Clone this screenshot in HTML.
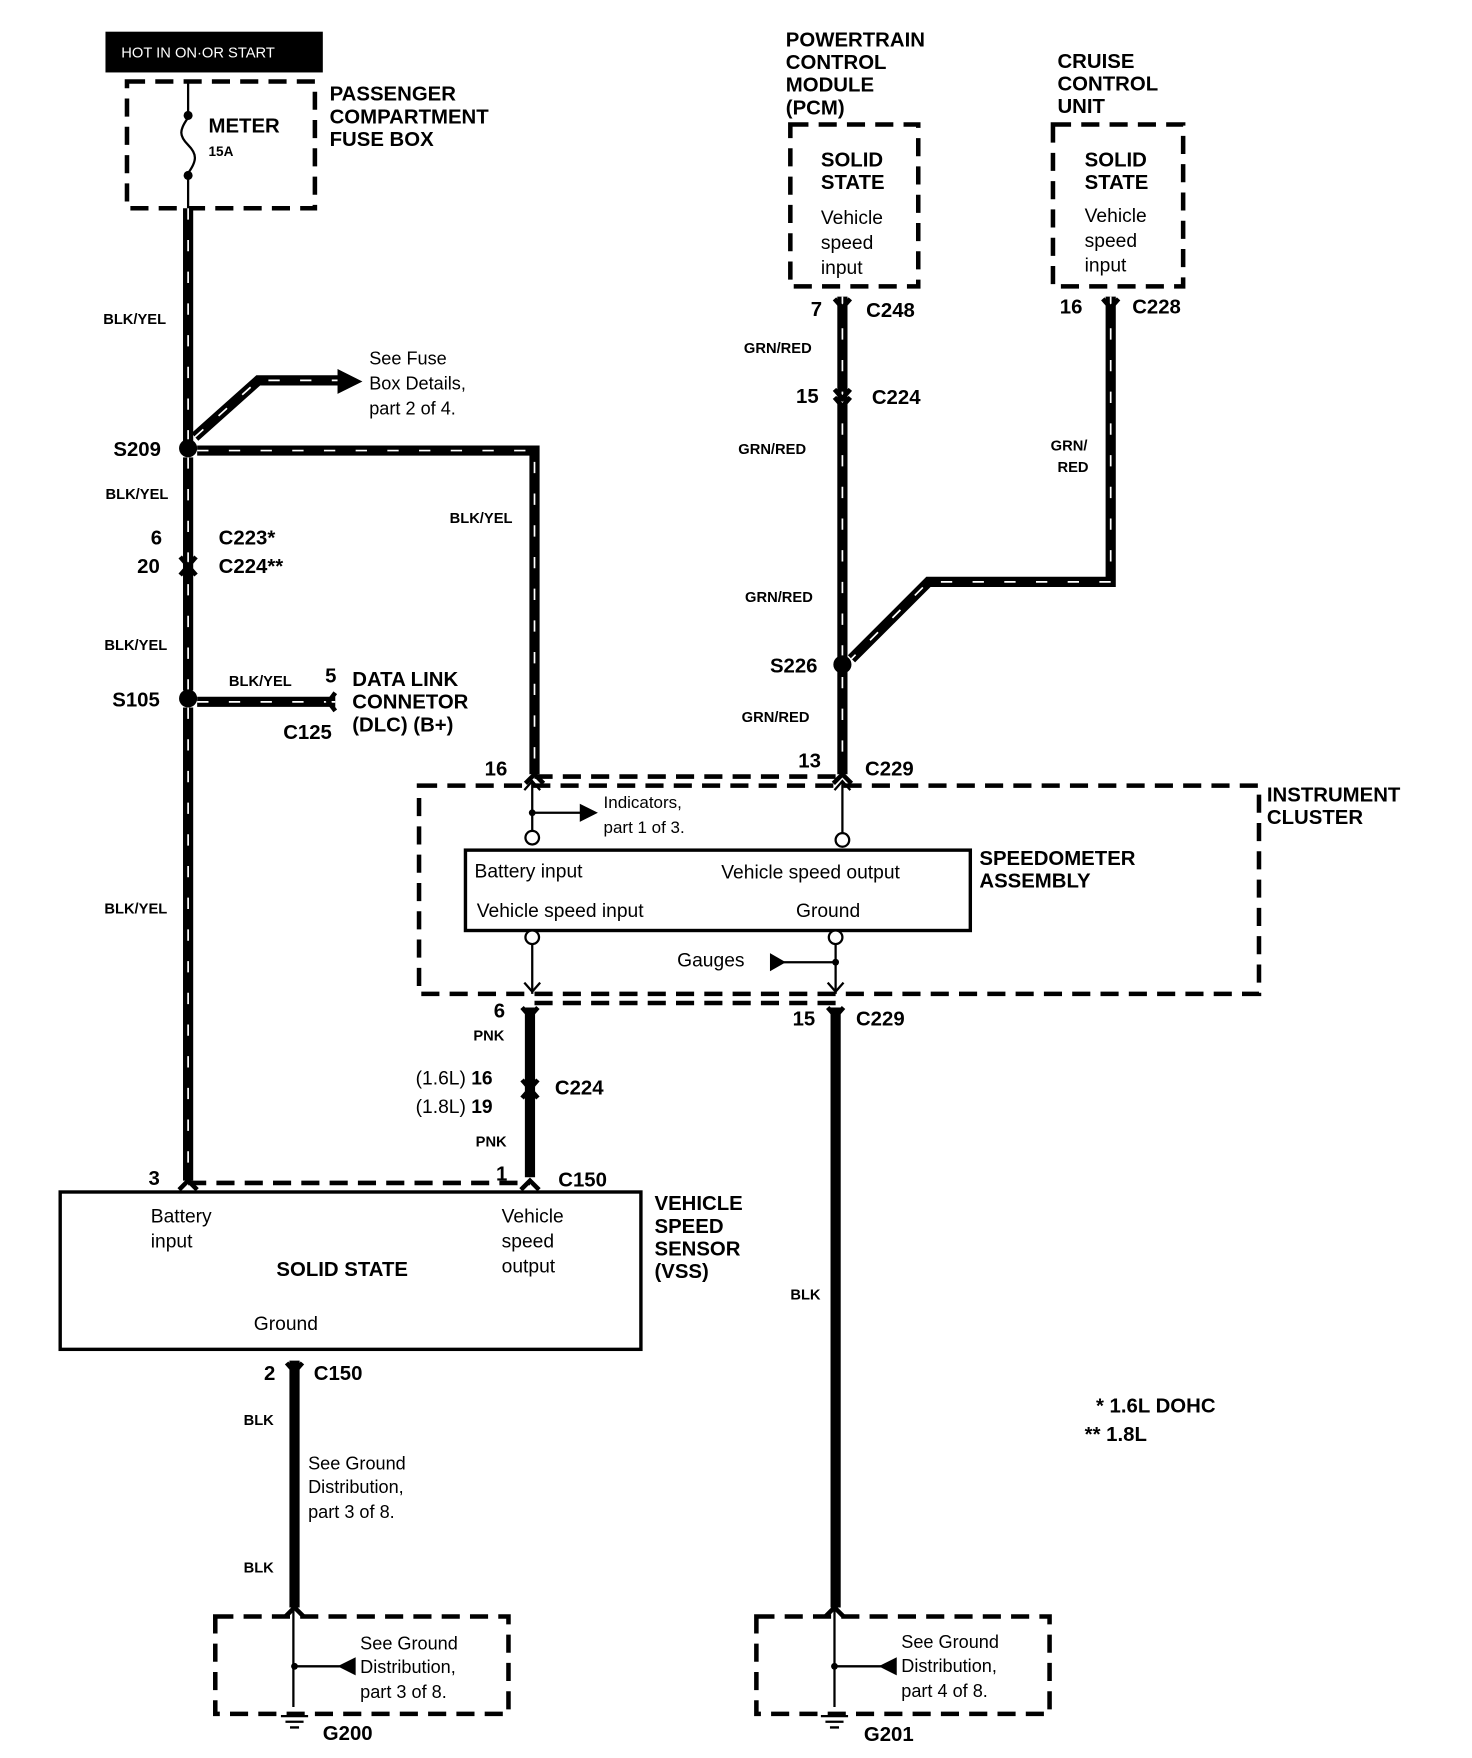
<!DOCTYPE html>
<html><head><meta charset="utf-8"><style>
html,body{margin:0;padding:0;background:#fff}
svg{display:block}
text{font-family:"Liberation Sans",Arial,sans-serif;fill:#000}
.b{font-weight:bold;font-size:18px}
.s{font-weight:bold;font-size:13px}
.n{font-size:17px}
.m{font-size:16px}
</style></head><body>
<svg width="1472" height="1758" viewBox="0 0 1300 1553" xmlns="http://www.w3.org/2000/svg">
<defs>
<g id="fk"><path d="M-7,-8 L0,0 L7,-8" fill="none" stroke="#000" stroke-width="4"/></g>
</defs>
<g fill="none" stroke="#000">
<!-- dashed boxes -->
<g stroke-width="4" stroke-dasharray="16,9">
<rect x="112" y="72" width="166" height="112"/>
<rect x="698" y="110" width="113" height="143"/>
<rect x="930" y="110" width="115" height="143"/>
<rect x="370" y="694" width="742" height="184"/>
<rect x="190" y="1428" width="259" height="86"/>
<rect x="668" y="1428" width="259" height="86"/>
<path d="M472,686 H744"/>
<path d="M472,886 H738"/>
<path d="M166,1045 H468"/>
</g>
<!-- solid boxes -->
<rect x="411" y="751" width="446" height="71" stroke-width="3"/>
<rect x="53" y="1053" width="513" height="139" stroke-width="3"/>
<!-- fuse -->
<path d="M166,72 V102 M166,155 V184" stroke-width="2"/>
<path d="M166,104 C158,115 158,120 166,128 C174,136 174,142 166,153" stroke-width="2"/>
<!-- striped wires -->
<g stroke-width="9">
<path d="M166,184 V390 M166,404 V610 M166,625 V1043"/>
<path d="M174,398 H472 V684"/>
<path d="M174,620 H296"/>
<path d="M744,262 V684"/>
<path d="M981,262 V514 H820 L752,582"/>
<path d="M172,386 L228,336 H300"/>
</g>
<g stroke="#fff" stroke-width="1.5" stroke-dasharray="10,18">
<path d="M166,184 V390 M166,404 V610 M166,625 V1043"/>
<path d="M174,398 H472 V684"/>
<path d="M174,620 H296"/>
<path d="M744,262 V684"/>
<path d="M981,262 V514 H820 L752,582"/>
<path d="M172,386 L228,336 H300"/>
</g>
<!-- solid wires -->
<g stroke-width="9">
<path d="M468,890 V1040"/>
<path d="M738,890 V1420"/>
<path d="M260,1202 V1420"/>
</g>
<!-- inside cluster -->
<g stroke-width="2">
<path d="M470,690 V734 M744,690 V736 M470,718 H515 M470,834 V878 M738,834 V878 M690,850 H738"/>
<path d="M737,1420 V1508 M259,1420 V1508 M260,1472 H300 M737,1472 H778"/>
<path d="M463,698 L470,690 L477,698 M737,698 L744,690 L751,698 M463,868 L470,876 L477,868 M731,868 L738,876 L745,868"/>
<circle cx="470" cy="740" r="6" fill="#fff"/>
<circle cx="744" cy="742" r="6" fill="#fff"/>
<circle cx="470" cy="828" r="6" fill="#fff"/>
<circle cx="738" cy="828" r="6" fill="#fff"/>
</g>
<!-- connectors -->
<use href="#fk" x="744" y="272"/>
<use href="#fk" x="744" y="352"/><use href="#fk" x="744" y="359"/>
<use href="#fk" x="981" y="272"/>
<use href="#fk" x="166" y="500"/>
<path d="M159,508 L166,500 L173,508" stroke-width="4"/>
<path d="M296,612 L290,620 L296,628" stroke-width="4"/>
<path d="M464,692 L472,684 L480,692" stroke-width="4"/>
<path d="M736,692 L744,684 L752,692" stroke-width="4"/>
<use href="#fk" x="468" y="898"/>
<use href="#fk" x="738" y="898"/>
<use href="#fk" x="468" y="962"/>
<path d="M461,970 L468,962 L475,970" stroke-width="4"/>
<path d="M158,1051 L166,1043 L174,1051 M460,1051 L468,1043 L476,1051" stroke-width="4"/>
<use href="#fk" x="260" y="1212"/>
<path d="M252,1428 L260,1420 L268,1428 M729,1428 L737,1420 L745,1428" stroke-width="4"/>
<!-- grounds -->
<path d="M248,1516 H272 M252,1521 H268 M256,1526 H264 M725,1516 H749 M729,1521 H745 M733,1526 H741" stroke-width="2"/>
</g>
<!-- dots & arrows -->
<g fill="#000">
<rect x="93" y="28" width="192" height="36"/>
<circle cx="166" cy="102" r="4"/><circle cx="166" cy="155" r="4"/>
<circle cx="166" cy="396" r="8"/><circle cx="166" cy="617" r="8"/><circle cx="744" cy="587" r="8"/>
<path d="M298,326 L320,337 L298,348 Z"/>
<path d="M512,710 L528,718 L512,726 Z"/>
<path d="M680,842 L694,850 L680,858 Z"/>
<path d="M314,1464 L298,1472 L314,1480 Z"/>
<path d="M792,1464 L776,1472 L792,1480 Z"/>
<circle cx="470" cy="718" r="3"/><circle cx="738" cy="850" r="3"/>
<circle cx="260" cy="1472" r="3"/><circle cx="737" cy="1472" r="3"/>
</g>
<text x="107" y="51" style="fill:#fff;font-size:13px">HOT IN ON·OR START</text>
<text x="184" y="117" class="b">METER</text>
<text x="184" y="138" class="s" style="font-size:12px">15A</text>
<text class="b"><tspan x="291" y="89">PASSENGER</tspan><tspan x="291" y="109">COMPARTMENT</tspan><tspan x="291" y="129">FUSE BOX</tspan></text>
<text class="b"><tspan x="694" y="41">POWERTRAIN</tspan><tspan x="694" y="61">CONTROL</tspan><tspan x="694" y="81">MODULE</tspan><tspan x="694" y="101">(PCM)</tspan></text>
<text class="b"><tspan x="934" y="60">CRUISE</tspan><tspan x="934" y="80">CONTROL</tspan><tspan x="934" y="100">UNIT</tspan></text>
<text class="b"><tspan x="725" y="147">SOLID</tspan><tspan x="725" y="167">STATE</tspan></text>
<text class="n"><tspan x="725" y="198">Vehicle</tspan><tspan x="725" y="220">speed</tspan><tspan x="725" y="242">input</tspan></text>
<text class="b"><tspan x="958" y="147">SOLID</tspan><tspan x="958" y="167">STATE</tspan></text>
<text class="n"><tspan x="958" y="196">Vehicle</tspan><tspan x="958" y="218">speed</tspan><tspan x="958" y="240">input</tspan></text>
<text class="m"><tspan x="326" y="322">See Fuse</tspan><tspan x="326" y="344">Box Details,</tspan><tspan x="326" y="366">part 2 of 4.</tspan></text>
<text class="s" x="91" y="286">BLK/YEL</text>
<text class="b" x="100" y="403">S209</text>
<text class="s" x="93" y="441">BLK/YEL</text>
<text class="s" x="397" y="462">BLK/YEL</text>
<text class="b" x="133" y="481">6</text><text class="b" x="121" y="506">20</text>
<text class="b" x="193" y="481">C223*</text><text class="b" x="193" y="506">C224**</text>
<text class="s" x="92" y="574">BLK/YEL</text>
<text class="b" x="99" y="624">S105</text>
<text class="s" x="202" y="606">BLK/YEL</text>
<text class="b" x="287" y="603">5</text>
<text class="b"><tspan x="311" y="606">DATA LINK</tspan><tspan x="311" y="626">CONNETOR</tspan><tspan x="311" y="646">(DLC) (B+)</tspan></text>
<text class="b" x="250" y="653">C125</text>
<text class="s" x="92" y="807">BLK/YEL</text>
<text class="b" x="716" y="279">7</text><text class="b" x="765" y="280">C248</text>
<text class="s" x="657" y="312">GRN/RED</text>
<text class="b" x="703" y="356">15</text><text class="b" x="770" y="357">C224</text>
<text class="s" x="652" y="401">GRN/RED</text>
<text class="s" x="658" y="532">GRN/RED</text>
<text class="b" x="680" y="594">S226</text>
<text class="s" x="655" y="638">GRN/RED</text>
<text class="b" x="936" y="277">16</text><text class="b" x="1000" y="277">C228</text>
<text class="s" x="928" y="398">GRN/</text><text class="s" x="934" y="417">RED</text>
<text class="b" x="428" y="685">16</text>
<text class="b" x="705" y="678">13</text><text class="b" x="764" y="685">C229</text>
<text class="b"><tspan x="1119" y="708">INSTRUMENT</tspan><tspan x="1119" y="728">CLUSTER</tspan></text>
<text style="font-size:15px"><tspan x="533" y="714">Indicators,</tspan><tspan x="533" y="736">part 1 of 3.</tspan></text>
<text class="n" x="419" y="775">Battery input</text>
<text class="n" x="637" y="776">Vehicle  speed  output</text>
<text class="n" x="421" y="810">Vehicle speed input</text>
<text class="n" x="703" y="810">Ground</text>
<text class="b"><tspan x="865" y="764">SPEEDOMETER</tspan><tspan x="865" y="784">ASSEMBLY</tspan></text>
<text class="n" x="598" y="854">Gauges</text>
<text class="b" x="436" y="899">6</text>
<text class="s" x="418" y="919">PNK</text>
<text class="b" x="700" y="906">15</text><text class="b" x="756" y="906">C229</text>
<text class="n" x="367" y="958">(1.6L) <tspan font-weight="bold">16</tspan></text>
<text class="n" x="367" y="983">(1.8L) <tspan font-weight="bold">19</tspan></text>
<text class="b" x="490" y="967">C224</text>
<text class="s" x="420" y="1013">PNK</text>
<text class="b" x="131" y="1047">3</text>
<text class="b" x="438" y="1043">1</text><text class="b" x="493" y="1048">C150</text>
<text class="n"><tspan x="133" y="1080">Battery</tspan><tspan x="133" y="1102">input</tspan></text>
<text class="n"><tspan x="443" y="1080">Vehicle</tspan><tspan x="443" y="1102">speed</tspan><tspan x="443" y="1124">output</tspan></text>
<text class="b" x="244" y="1127">SOLID STATE</text>
<text class="n" x="224" y="1175">Ground</text>
<text class="b"><tspan x="578" y="1069">VEHICLE</tspan><tspan x="578" y="1089">SPEED</tspan><tspan x="578" y="1109">SENSOR</tspan><tspan x="578" y="1129">(VSS)</tspan></text>
<text class="s" x="698" y="1148">BLK</text>
<text class="b" x="233" y="1219">2</text><text class="b" x="277" y="1219">C150</text>
<text class="s" x="215" y="1259">BLK</text>
<text class="m"><tspan x="272" y="1298">See Ground</tspan><tspan x="272" y="1319">Distribution,</tspan><tspan x="272" y="1341">part 3 of 8.</tspan></text>
<text class="s" x="215" y="1389">BLK</text>
<text class="m"><tspan x="318" y="1457">See Ground</tspan><tspan x="318" y="1478">Distribution,</tspan><tspan x="318" y="1500">part 3 of 8.</tspan></text>
<text class="m"><tspan x="796" y="1456">See Ground</tspan><tspan x="796" y="1477">Distribution,</tspan><tspan x="796" y="1499">part 4 of 8.</tspan></text>
<text class="b" x="285" y="1537">G200</text>
<text class="b" x="763" y="1538">G201</text>
<text class="b" x="968" y="1248">*  1.6L DOHC</text>
<text class="b" x="958" y="1273">**  1.8L</text>
</svg>
</body></html>
